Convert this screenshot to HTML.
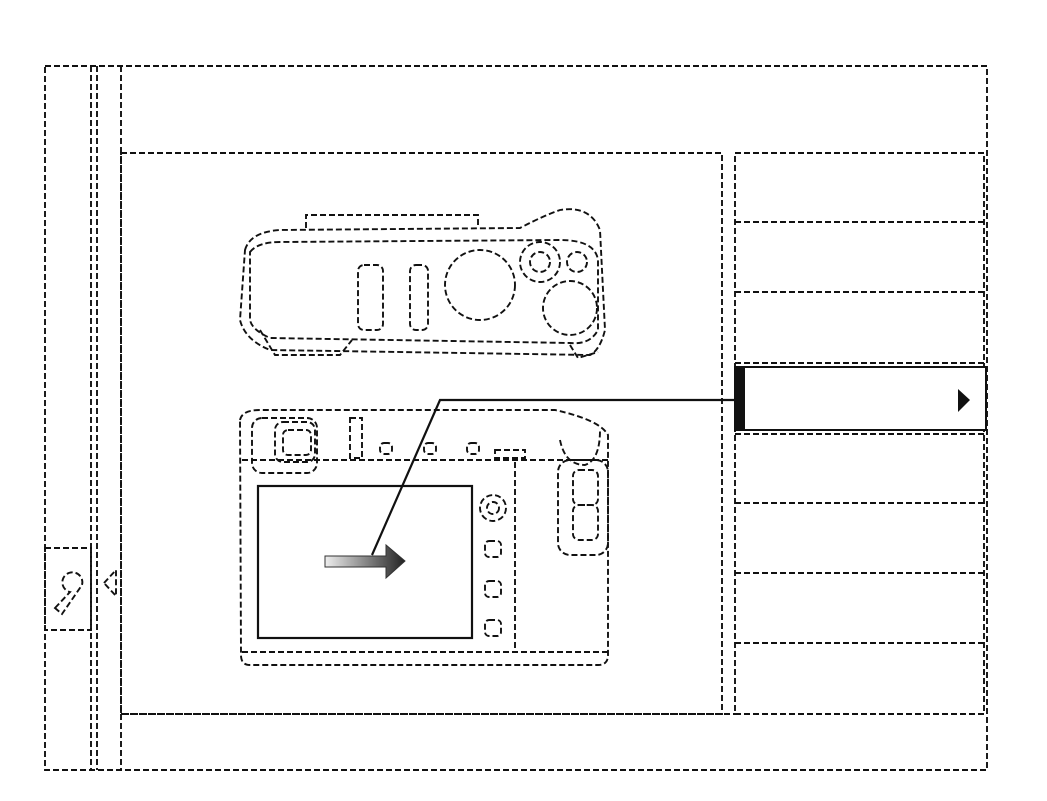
<!DOCTYPE html>
<html><head><meta charset="utf-8">
<style>
html,body{margin:0;padding:0;background:#fff;}
svg{display:block;}
.d{fill:none;stroke:#111;stroke-width:1.9;stroke-dasharray:6 3;}
.s{fill:none;stroke:#111;stroke-width:2.2;}
</style></head>
<body>
<svg width="1047" height="801" viewBox="0 0 1047 801">
<defs>
<linearGradient id="g" x1="0" x2="1" y1="0" y2="0">
<stop offset="0" stop-color="#eee"/><stop offset="1" stop-color="#222"/>
</linearGradient>
</defs>
<g>
<rect class="d" x="45" y="66" width="942" height="704"/>
<line class="d" x1="91" y1="66" x2="91" y2="770"/>
<line class="d" x1="97" y1="66" x2="97" y2="770"/>
<line class="d" x1="121" y1="66" x2="121" y2="770"/>
<line class="d" x1="121" y1="714" x2="735" y2="714"/>
</g>
<g>
<rect class="d" x="45" y="548" width="46" height="82"/>
<path class="d" d="M55 608 L70 592 A10 10 0 1 1 82 585 L62 614 Z"/>
<path class="d" d="M104 583 L116 570 L116 596 Z"/>
</g>
<rect class="d" x="121" y="153" width="601" height="561"/>
<g>
<rect class="d" x="735" y="153" width="249" height="561"/>
<line class="d" x1="735" y1="222" x2="984" y2="222"/>
<line class="d" x1="735" y1="292" x2="984" y2="292"/>
<line class="d" x1="735" y1="363" x2="984" y2="363"/>
<line class="d" x1="735" y1="434" x2="984" y2="434"/>
<line class="d" x1="735" y1="503" x2="984" y2="503"/>
<line class="d" x1="735" y1="573" x2="984" y2="573"/>
<line class="d" x1="735" y1="643" x2="984" y2="643"/>
</g>
<g>
<rect x="735" y="367" width="251" height="63" fill="#fff" stroke="#111" stroke-width="2"/>
<rect x="735" y="367" width="10" height="63" fill="#111"/>
<path d="M958 389 L970 400 L958 412 Z" fill="#111"/>
</g>
<g>
<path class="d" d="M306 228 L306 215 L478 215 L478 228"/>
<path class="d" d="M245 250 Q250 232 280 230 L520 228 Q545 215 560 210 Q590 205 600 230 L605 330 Q600 350 590 355 L270 350 Q245 340 240 320 Z"/>
<path class="d" d="M250 252 Q258 242 280 242 L560 240 Q595 240 598 260 L598 330 Q590 345 570 343 L270 338 Q252 330 250 320 Z"/>
<rect class="d" x="358" y="265" width="25" height="65" rx="6"/>
<rect class="d" x="410" y="265" width="18" height="65" rx="6"/>
<circle class="d" cx="480" cy="285" r="35"/>
<circle class="d" cx="540" cy="262" r="20"/>
<circle class="d" cx="540" cy="262" r="10"/>
<circle class="d" cx="577" cy="262" r="10"/>
<circle class="d" cx="570" cy="308" r="27"/>
<path class="d" d="M260 330 L275 355 L340 355 L352 340"/>
<path class="d" d="M570 345 L578 358 L598 352"/>
</g>
<g>
<path class="d" d="M240 420 Q242 410 260 410 L555 410 Q600 420 608 435 L608 655 Q608 665 598 665 L250 665 Q241 665 241 655 Z"/>
<line class="d" x1="242" y1="460" x2="608" y2="460"/>
<rect class="d" x="252" y="418" width="65" height="55" rx="10"/>
<rect class="d" x="275" y="422" width="40" height="40" rx="8"/>
<rect class="d" x="283" y="430" width="28" height="25" rx="5"/>
<rect class="d" x="350" y="418" width="12" height="40"/>
<rect class="d" x="380" y="443" width="12" height="11" rx="4"/>
<rect class="d" x="424" y="443" width="12" height="11" rx="4"/>
<rect class="d" x="467" y="443" width="12" height="11" rx="4"/>
<rect class="d" x="495" y="450" width="30" height="8"/>
<path class="d" d="M560 440 Q565 465 585 465 Q600 460 600 430"/>
<rect class="d" x="558" y="460" width="50" height="95" rx="12"/>
<rect class="d" x="573" y="470" width="25" height="35" rx="6"/>
<rect class="d" x="573" y="505" width="25" height="35" rx="6"/>
<line class="d" x1="515" y1="462" x2="515" y2="652"/>
<line class="d" x1="242" y1="652" x2="608" y2="652"/>
<circle class="d" cx="493" cy="508" r="13"/>
<circle class="d" cx="493" cy="508" r="6"/>
<rect class="d" x="485" y="541" width="16" height="16" rx="4"/>
<rect class="d" x="485" y="581" width="16" height="16" rx="4"/>
<rect class="d" x="485" y="620" width="16" height="16" rx="4"/>
</g>
<rect x="258" y="486" width="214" height="152" fill="#fff" stroke="#111" stroke-width="2.2"/>
<path d="M325 556 L386 556 L386 545 L405 561 L386 578 L386 567 L325 567 Z" fill="url(#g)" stroke="#333" stroke-width="1"/>
<polyline class="s" points="735,400 440,400 372,555"/>
</svg>
</body></html>
